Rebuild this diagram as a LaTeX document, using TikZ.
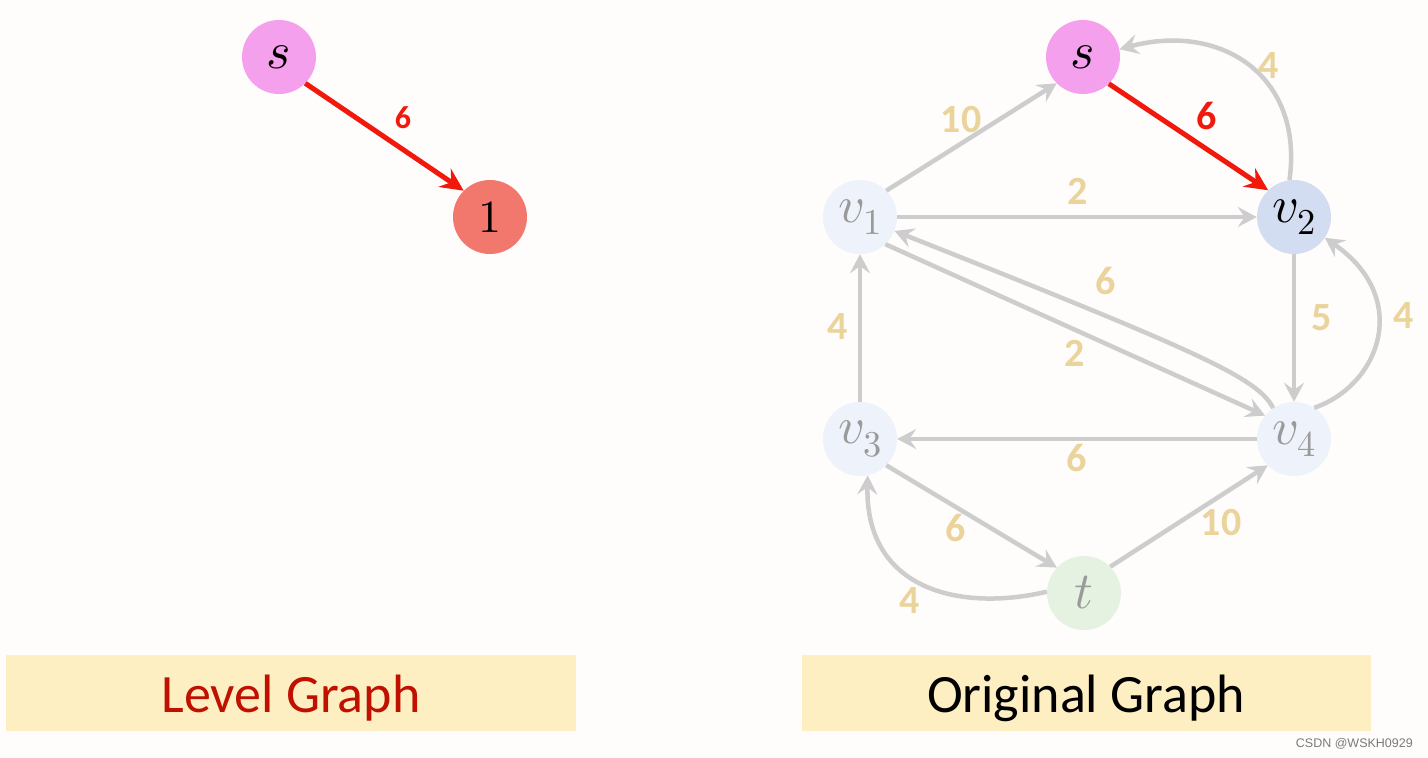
\documentclass[tikz,border=0pt]{standalone}
\usepackage{fontspec}
\usepackage{unicode-math}
\setmainfont{Carlito}
\setmathfont{Latin Modern Math}
\newfontfamily\wmfont{Liberation Sans}
\usetikzlibrary{arrows.meta}
\definecolor{bg}{HTML}{FFFCFC}
\definecolor{edgegray}{HTML}{CDCDCD}
\definecolor{lbl}{HTML}{EAD49C}
\definecolor{redarrow}{HTML}{F0190C}
\definecolor{titlered}{HTML}{C01000}
\definecolor{boxfill}{HTML}{FEEFC2}
\definecolor{spink}{HTML}{F5A0EC}
\definecolor{onered}{HTML}{F2776C}
\definecolor{vblue}{HTML}{D3DDF1}
\definecolor{vpale}{HTML}{EEF2FA}
\definecolor{tgreen}{HTML}{E5F2E1}
\definecolor{txtgray}{HTML}{9A9A9A}
\definecolor{wmgray}{HTML}{7A7A7A}
\tikzset{
  vert/.style={circle, minimum size=74pt, inner sep=0pt, font=\fontsize{52}{58}\selectfont},
  gedge/.style={draw=edgegray, line width=4.5pt, -{Stealth[length=19pt,width=20pt,inset=7pt]}},
  redge/.style={draw=redarrow, line width=5pt, -{Stealth[length=23pt,width=22pt,inset=8pt]}},
  wlabel/.style={text=lbl, inner sep=0pt, font=\fontsize{40}{44}\selectfont\bfseries},
  titlebox/.style={fill=boxfill, minimum width=570pt, minimum height=76pt, inner sep=0pt},
  titletext/.style={anchor=base, inner sep=0pt, font=\fontsize{54}{60}\selectfont}
}
\begin{document}
\begin{tikzpicture}[x=1pt,y=1pt]
\fill[bg] (0,0) rectangle (1428,-758);
\useasboundingbox (0,0) rectangle (1428,-758);

% ---------- Level graph ----------
\node[vert, fill=spink] (sL) at (279,-57) {$s$};
\node[vert, fill=onered, font=\fontsize{46}{52}\selectfont] (one) at (490,-217) {$1$};
\draw[redge] (sL.-45) -- (one.135);
\node[wlabel, text=redarrow, font=\fontsize{32}{36}\selectfont\bfseries] (lA) at (403,-118) {6};

% ---------- Original graph ----------
\node[vert, fill=spink] (s) at (1083,-57) {$s$};
\node[vert, fill=vpale, text=txtgray] (v1) at (860,-217) {$v_1$};
\node[vert, fill=vblue] (v2) at (1294,-217) {$v_2$};
\node[vert, fill=vpale, text=txtgray] (v3) at (860,-439) {$v_3$};
\node[vert, fill=vpale, text=txtgray] (v4) at (1294,-439) {$v_4$};
\node[vert, fill=tgreen, text=txtgray] (t) at (1084,-593) {$t$};

\draw[gedge] (v1.45) -- (s.225);
\draw[gedge] (v2.97) .. controls (1304,-75) and (1220,-22) .. (s.12);
\draw[gedge] (v1) -- (v2);
\draw[gedge] (v2) -- (v4);
\draw[gedge] (v4.57) .. controls (1380,-385) and (1412,-298) .. (v2.-34);
\draw[gedge] (v4.124) .. controls (1258,-378) and (1200,-352) .. (v1.-22);
\draw[gedge] (v1.-47) -- (v4.141);
\draw[gedge] (v3) -- (v1);
\draw[gedge] (v4) -- (v3);
\draw[gedge] (v3.-45) -- (t.137);
\draw[gedge] (t.45) -- (v4.225);
\draw[gedge] (t.178) .. controls (960,-612) and (865,-590) .. (v3.-78);
\draw[redge] (s.-46) -- (v2.134);

\node[wlabel] (l10a) at (961,-120) {10};
\node[wlabel, text=redarrow] (l6r) at (1207,-116) {6};
\node[wlabel] (l4a) at (1269,-66) {4};
\node[wlabel] (l2a) at (1078,-191) {2};
\node[wlabel] (l6a) at (1106,-281) {6};
\node[wlabel] (l5) at (1322,-318) {5};
\node[wlabel] (l4b) at (1404,-316) {4};
\node[wlabel] (l4c) at (838,-327) {4};
\node[wlabel] (l2b) at (1075,-353) {2};
\node[wlabel] (l6b) at (1077,-458) {6};
\node[wlabel] (l6c) at (956,-528) {6};
\node[wlabel] (l10b) at (1221,-523) {10};
\node[wlabel] (l4d) at (910,-601) {4};

% ---------- titles ----------
\node[titlebox] (boxL) at (291,-693) {};
\node[titletext, text=titlered] (titleL) at (291,-712) {Level Graph};
\node[titlebox, minimum width=569pt] (boxR) at (1086.5,-693) {};
\node[titletext] (titleR) at (1086,-712) {Original Graph};

\node[anchor=base east, inner sep=0pt, text=wmgray, font=\wmfont\fontsize{12.5}{14}\selectfont] (wm) at (1413,-747) {CSDN @WSKH0929};
\end{tikzpicture}
\end{document}
